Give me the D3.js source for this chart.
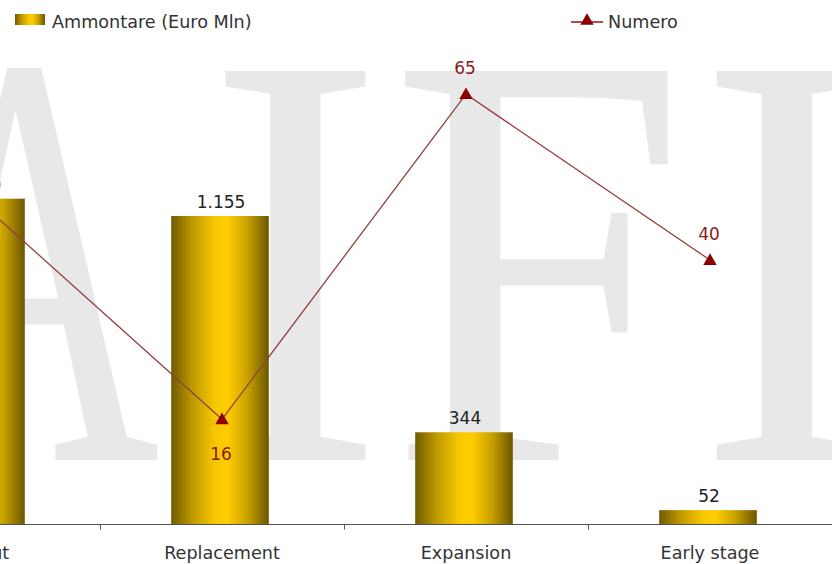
<!DOCTYPE html>
<html>
<head>
<meta charset="utf-8">
<script src="https://cdn.jsdelivr.net/npm/d3@7"></script>
<style>
  html, body { margin: 0; padding: 0; background: #fff; }
  svg { display: block; }
  text { font-family: "DejaVu Sans", Verdana, sans-serif; }
</style>
</head>
<body>
<svg id="chart" width="832" height="564"></svg>
<script>
// Investimenti per tipologia: ammontare (Euro Mln) e numero di operazioni
const categories = ["Buyout", "Replacement", "Expansion", "Early stage"];
const ammontare = [1220, 1155, 344, 52];
const numero = [49, 16, 65, 40];
const legendLabels = ["Ammontare (Euro Mln)", "Numero"];
const watermarkLetters = ["A", "I", "F", "I"];

const W = 832, H = 564;
const svg = d3.select("#chart");
const defs = svg.append("defs");

// cylinder-like horizontal gradient for the bars
const grad = defs.append("linearGradient")
  .attr("id", "barGrad").attr("x1", "0%").attr("x2", "100%").attr("y1", "0%").attr("y2", "0%");
[[0, "#6f5a00"], [0.22, "#bf9a00"], [0.45, "#f7c800"], [0.58, "#ffcc00"], [0.78, "#c9a200"], [1, "#6b5600"]]
  .forEach(([o, c]) => grad.append("stop").attr("offset", o).attr("stop-color", c));

// Italian number format: 1.155
const it = d3.formatLocale({ decimal: ",", thousands: ".", grouping: [3], currency: ["€", ""] });
const fmt = it.format(",d");

// scales
const x = d3.scaleBand().domain(categories).range([-144, 832]).paddingInner(0).paddingOuter(0);
const yAmt = d3.scaleLinear().domain([0, 1740]).range([524, 60]);
const yNum = d3.scaleLinear().domain([0, 70]).range([525.5, 61]);
const barW = x.bandwidth() * 0.4;
const cx = c => x(c) + x.bandwidth() / 2;

// background watermark (large serif letters in light grey)
const wmStyle = sel => sel
  .style("font-family", "'Liberation Serif', 'Times New Roman', serif")
  .style("font-size", "594px")
  .attr("fill", "#e8e8e8");
svg.append("g").attr("transform", "translate(-106,0) scale(0.62,1)")
  .append("text").attr("y", 460).call(wmStyle).text(watermarkLetters[0]);
const wm = svg.append("g").attr("transform", "scale(0.9,1)");
wm.append("text").attr("y", 460).call(wmStyle)
  .selectAll("tspan").data(watermarkLetters.slice(1)).join("tspan")
  .attr("x", (d, i) => [229, 433, 775][i])
  .text(d => d);

// x axis
const axis = d3.axisBottom(x).tickSize(0).tickPadding(0).tickFormat("");
const gx = svg.append("g").attr("transform", "translate(0,524.5)").call(axis);
gx.select(".domain").attr("stroke", "#555").attr("d", "M0,0H832");
gx.selectAll(".tick").remove();
// tick marks at band boundaries
gx.selectAll("line.sep").data(categories.slice(1)).join("line")
  .attr("class", "sep")
  .attr("x1", d => x(d) + 0.5).attr("x2", d => x(d) + 0.5)
  .attr("y1", 0).attr("y2", 5).attr("stroke", "#555");
svg.append("g").selectAll("text").data(categories).join("text")
  .attr("x", d => cx(d)).attr("y", 559)
  .attr("text-anchor", "middle")
  .attr("fill", "#333").style("font-size", "17.6px")
  .text(d => d);

// bars
svg.append("g").selectAll("rect").data(categories).join("rect")
  .attr("x", d => cx(d) - barW / 2 - 2)
  .attr("width", barW)
  .attr("y", (d, i) => yAmt(ammontare[i]))
  .attr("height", (d, i) => yAmt(0) - yAmt(ammontare[i]))
  .attr("fill", "url(#barGrad)");

svg.append("g").selectAll("text").data(categories).join("text")
  .attr("x", d => cx(d) - 1)
  .attr("y", (d, i) => yAmt(ammontare[i]) - 8)
  .attr("text-anchor", "middle")
  .attr("fill", "#222").style("font-size", "17px")
  .text((d, i) => fmt(ammontare[i]));

// line series
const line = d3.line().x((d, i) => cx(categories[i])).y(d => yNum(d));
svg.append("path").datum(numero)
  .attr("d", line).attr("fill", "none")
  .attr("stroke", "#934040").attr("stroke-width", 1.3);

const tri = d3.symbol().type(d3.symbolTriangle).size(78);
svg.append("g").selectAll("path").data(numero).join("path")
  .attr("d", tri)
  .attr("transform", (d, i) => `translate(${cx(categories[i])},${yNum(d) + 1})`)
  .attr("fill", "#8b0000");

svg.append("g").selectAll("text").data(numero).join("text")
  .attr("x", (d, i) => cx(categories[i]) - 1)
  .attr("y", (d, i) => yNum(d) > yAmt(ammontare[i]) + 10 ? yNum(d) + 41 : yNum(d) - 20)
  .attr("text-anchor", "middle")
  .attr("fill", "#8b1a1a").style("font-size", "17px")
  .text(d => d);

// legend
const lg = svg.append("g");
lg.append("rect").attr("x", 15).attr("y", 14).attr("width", 30).attr("height", 11).attr("fill", "url(#barGrad)");
lg.append("text").attr("x", 52).attr("y", 28).attr("fill", "#333").style("font-size", "17.6px").text(legendLabels[0]);
lg.append("line").attr("x1", 571).attr("x2", 603).attr("y1", 22).attr("y2", 22).attr("stroke", "#a01010").attr("stroke-width", 1.5);
lg.append("path").attr("d", tri).attr("transform", "translate(587,21)").attr("fill", "#8b0000");
lg.append("text").attr("x", 608).attr("y", 28).attr("fill", "#333").style("font-size", "17.6px").text(legendLabels[1]);
</script>
</body>
</html>
